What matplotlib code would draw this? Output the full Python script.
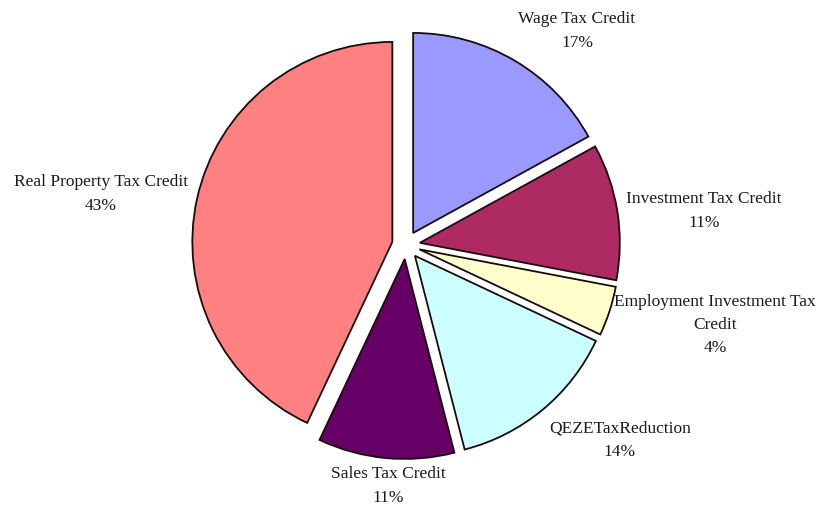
import matplotlib
matplotlib.use("Agg")
import matplotlib.pyplot as plt

categories = [
    "Wage Tax Credit",
    "Investment Tax Credit",
    "Employment Investment Tax\nCredit",
    "QEZETaxReduction",
    "Sales Tax Credit",
    "Real Property Tax Credit",
]
shares = [17, 11, 4, 14, 11, 43]
colors = ["#9999FF", "#AD2A62", "#FFFFCC", "#CCFFFF", "#660066", "#FF8080"]

# label anchor points in pixels (x from left, y from top)
label_px = [(577, 31), (704, 211), (715, 325), (620, 440), (388, 486), (101, 194)]

W, H = 817, 505
CX, CY, R = 406, 245, 200

plt.rcParams["font.family"] = ["Liberation Serif", "DejaVu Serif"]

fig = plt.figure(figsize=(W / 100, H / 100), dpi=100)
ax = fig.add_axes([0, 0, 1, 1])

ax.pie(
    shares,
    colors=colors,
    startangle=90,
    counterclock=False,
    explode=[0.07] * len(shares),
    radius=1.0,
    wedgeprops=dict(edgecolor="#1a0a0a", linewidth=1.3),
)

ax.set_xlim(-CX / R, (W - CX) / R)
ax.set_ylim(-(H - CY) / R, CY / R)
ax.axis("off")

for name, val, (px, py) in zip(categories, shares, label_px):
    x = (px - CX) / R
    y = (CY - py) / R
    ax.text(x, y, f"{name}\n{val}%", ha="center", va="center",
            fontsize=12.5, linespacing=1.6, color="#1a1a1a")

plt.savefig("out.png", dpi=100)
plt.close()
